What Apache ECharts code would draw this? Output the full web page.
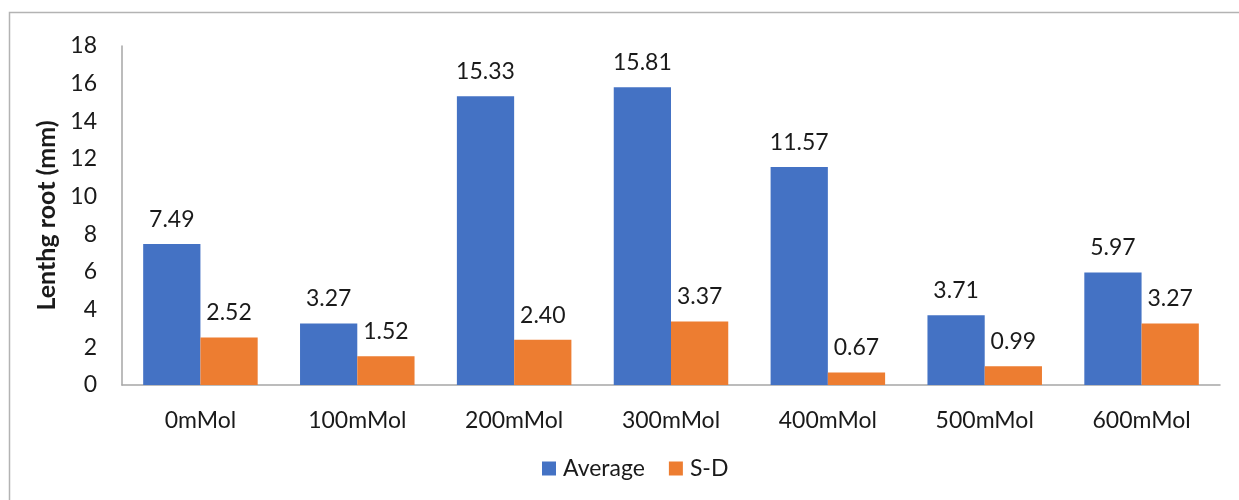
<!DOCTYPE html>
<html><head><meta charset="utf-8">
<script src="https://cdn.jsdelivr.net/npm/echarts@6/dist/echarts.min.js"></script>
<style>html,body{margin:0;padding:0;background:#fff}#c{width:1239px;height:500px}</style>
</head><body><div id="c"></div>
<script>
const categories = ['0mMol','100mMol','200mMol','300mMol','400mMol','500mMol','600mMol'];
const averageValues = [7.49, 3.27, 15.33, 15.81, 11.57, 3.71, 5.97];
const sdValues = [2.52, 1.52, 2.40, 3.37, 0.67, 0.99, 3.27];
const yTicks = {min: 0, max: 18, interval: 2};
const font = 'Lato, "Open Sans", sans-serif';
const chart = echarts.init(document.getElementById('c'), null, {renderer: 'canvas'});
const lbl = {show: true, position: 'top', distance: 13, color: '#1a1a1a', fontSize: 23, fontFamily: font,
  formatter: p => p.value.toFixed(2)};
chart.setOption({
  animation: false,
  graphic: [{type: 'rect', shape: {x: 9.5, y: 12.5, width: 1240, height: 500},
    style: {fill: 'none', stroke: '#b3b3b3', lineWidth: 1.5}, silent: true}],
  grid: {left: 122, right: 19, top: 46, bottom: 115, containLabel: false},
  legend: {top: 457, left: 542, padding: 0, itemWidth: 14, itemHeight: 14, itemGap: 24, icon: 'rect',
    textStyle: {fontSize: 23, color: '#1a1a1a', fontFamily: font, padding: [0, 0, 0, 2]},
    data: ['Average', 'S-D']},
  xAxis: {type: 'category', data: categories,
    axisLine: {lineStyle: {color: '#a6a6a6', width: 1.5}}, axisTick: {show: false},
    axisLabel: {fontSize: 23, color: '#1a1a1a', fontFamily: font, margin: 24}},
  yAxis: {type: 'value', min: yTicks.min, max: yTicks.max, interval: yTicks.interval,
    name: 'Lenthg root (mm)', nameLocation: 'middle', nameGap: 63,
    nameTextStyle: {fontSize: 25, fontWeight: 'bold', color: '#1a1a1a', fontFamily: font},
    axisLine: {show: true, lineStyle: {color: '#a6a6a6', width: 1.5}}, axisTick: {show: false},
    splitLine: {show: false},
    axisLabel: {fontSize: 23, color: '#1a1a1a', fontFamily: font, margin: 25}},
  series: [
    {name: 'Average', type: 'bar', data: averageValues, barGap: '0%', barCategoryGap: '27%',
     itemStyle: {color: '#4472c4'}, label: lbl},
    {name: 'S-D', type: 'bar', data: sdValues, barGap: '0%', barCategoryGap: '27%',
     itemStyle: {color: '#ed7d31'}, label: lbl}
  ]
});
</script></body></html>
